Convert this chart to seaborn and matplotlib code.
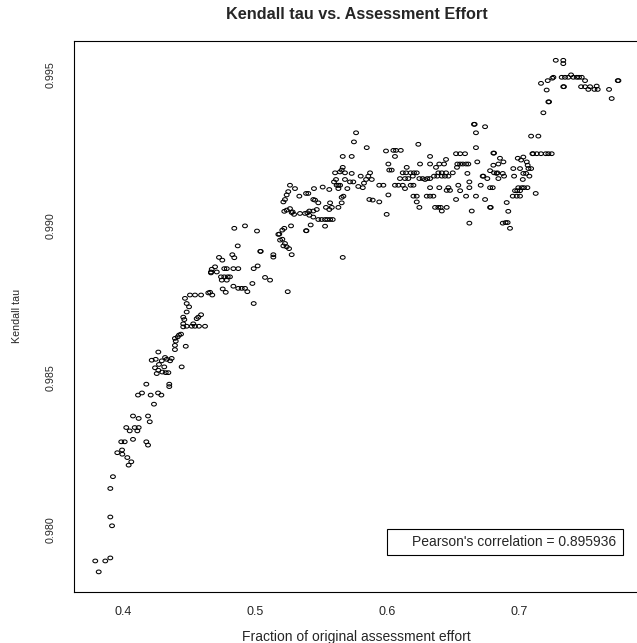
import numpy as np
import pandas as pd
import matplotlib
matplotlib.use("Agg")
import matplotlib.pyplot as plt
from matplotlib import font_manager
from matplotlib.path import Path
from matplotlib.transforms import Affine2D
from matplotlib.patches import Rectangle
import seaborn as sns

# ---------------- data ----------------
x_tail = [0.3815, 0.3789, 0.3865, 0.3903, 0.3916, 0.3903, 0.3903, 0.3923, 0.4042, 0.4062,
          0.4032, 0.3994, 0.3956, 0.3992, 0.3986, 0.4012, 0.4075, 0.4176, 0.4189, 0.4024,
          0.4050, 0.4088, 0.4108, 0.4118, 0.4075, 0.4118, 0.4189, 0.4202, 0.4113, 0.4143,
          0.4209, 0.4265, 0.4290, 0.4234, 0.4176]
y_tail = [0.97859, 0.97895, 0.97895, 0.97905, 0.98011, 0.98040, 0.98134, 0.98173, 0.98211, 0.98222,
          0.98236, 0.98247, 0.98252, 0.98261, 0.98288, 0.98288, 0.98296, 0.98288, 0.98277, 0.98335,
          0.98324, 0.98335, 0.98324, 0.98335, 0.98373, 0.98365, 0.98373, 0.98354, 0.98442, 0.98449,
          0.98442, 0.98449, 0.98442, 0.98412, 0.98478]

x_rise = [0.4350, 0.4350, 0.4255, 0.4267, 0.4297, 0.4323, 0.4343, 0.4312, 0.4444, 0.4242,
          0.4272, 0.4217, 0.4247, 0.4293, 0.4331, 0.4356, 0.4368, 0.4318, 0.4267, 0.4393,
          0.4393, 0.4475, 0.4399, 0.4414, 0.4424, 0.4439, 0.4393, 0.4456, 0.4482, 0.4520,
          0.4545, 0.4575, 0.4621, 0.4456, 0.4532, 0.4464, 0.4456, 0.4558, 0.4591, 0.4570,
          0.4482, 0.4500, 0.4482, 0.4469, 0.4507, 0.4545, 0.4591, 0.4646, 0.4676, 0.4666]
y_rise = [0.98478, 0.98470, 0.98513, 0.98524, 0.98518, 0.98516, 0.98516, 0.98535, 0.98535, 0.98532,
          0.98543, 0.98557, 0.98560, 0.98555, 0.98560, 0.98555, 0.98563, 0.98566, 0.98584, 0.98592,
          0.98606, 0.98603, 0.98620, 0.98634, 0.98640, 0.98643, 0.98629, 0.98667, 0.98669, 0.98669,
          0.98669, 0.98669, 0.98669, 0.98677, 0.98677, 0.98691, 0.98699, 0.98694, 0.98707, 0.98699,
          0.98716, 0.98733, 0.98744, 0.98761, 0.98772, 0.98772, 0.98772, 0.98779, 0.98772, 0.98845]

x_knee = [0.4659, 0.4755, 0.4778, 0.4836, 0.4873, 0.4899, 0.4924, 0.4942, 0.4990, 0.4980,
          0.5076, 0.5114, 0.5248, 0.4672, 0.4697, 0.4666, 0.4710, 0.4767, 0.4786, 0.4836,
          0.4873, 0.4742, 0.4767, 0.4793, 0.4810, 0.4748, 0.4786, 0.4727, 0.4752, 0.4828,
          0.4843, 0.4869, 0.4990, 0.5020, 0.5040, 0.5043, 0.5139, 0.5139, 0.4843, 0.4924,
          0.5015, 0.5177, 0.5207, 0.5222, 0.5190, 0.5207, 0.5215, 0.5240, 0.5258, 0.5278,
          0.5273, 0.5240, 0.5265, 0.5278, 0.5222]
y_knee = [0.98781, 0.98792, 0.98781, 0.98801, 0.98794, 0.98794, 0.98794, 0.98783, 0.98744, 0.98810,
          0.98830, 0.98821, 0.98783, 0.98857, 0.98865, 0.98848, 0.98848, 0.98859, 0.98859, 0.98859,
          0.98859, 0.98832, 0.98832, 0.98832, 0.98832, 0.98821, 0.98821, 0.98896, 0.98887, 0.98905,
          0.98895, 0.98934, 0.98859, 0.98868, 0.98916, 0.98916, 0.98905, 0.98897, 0.98992, 0.99000,
          0.98983, 0.98972, 0.98986, 0.98992, 0.98953, 0.98956, 0.98934, 0.98931, 0.98925, 0.98905,
          0.99000, 0.99052, 0.99057, 0.99044, 0.99048]

x_mid = [0.5766, 0.5750, 0.5847, 0.5993, 0.5665, 0.5733, 0.6011, 0.5665, 0.5657, 0.5644,
         0.5607, 0.5682, 0.5733, 0.5801, 0.5872, 0.5859, 0.5842, 0.5826, 0.5817, 0.5885,
         0.5942, 0.5973, 0.6018, 0.6011, 0.5998, 0.5867, 0.5892, 0.5942, 0.5720, 0.5745,
         0.5682, 0.5614, 0.5599, 0.5619, 0.5632, 0.5645, 0.5632, 0.5700, 0.5783, 0.5657,
         0.5670, 0.5563, 0.5513, 0.5447, 0.5336, 0.5387, 0.5404, 0.5303, 0.5265, 0.5252,
         0.5240, 0.5227, 0.5215, 0.5285, 0.5296, 0.5341, 0.5379, 0.5397, 0.5412, 0.5442,
         0.5468, 0.5412, 0.5442, 0.5455, 0.5480, 0.5442, 0.5538, 0.5569, 0.5563, 0.5582,
         0.5632, 0.5657, 0.5480, 0.5505, 0.5531, 0.5548, 0.5569, 0.5589, 0.5531, 0.5422,
         0.5387, 0.5390, 0.5184, 0.5227, 0.5665]
y_mid = [0.99307, 0.99277, 0.99258, 0.99247, 0.99229, 0.99229, 0.99204, 0.99193, 0.99184, 0.99178,
         0.99175, 0.99175, 0.99173, 0.99164, 0.99175, 0.99164, 0.99153, 0.99141, 0.99126, 0.99153,
         0.99134, 0.99134, 0.99184, 0.99102, 0.99038, 0.99087, 0.99085, 0.99079, 0.99145, 0.99145,
         0.99153, 0.99153, 0.99145, 0.99134, 0.99134, 0.99134, 0.99123, 0.99123, 0.99130, 0.99094,
         0.99098, 0.99120, 0.99128, 0.99123, 0.99098, 0.99107, 0.99107, 0.99123, 0.99134, 0.99113,
         0.99102, 0.99087, 0.99079, 0.99046, 0.99038, 0.99041, 0.99041, 0.99043, 0.99049, 0.99049,
         0.99054, 0.99035, 0.99029, 0.99085, 0.99076, 0.99087, 0.99061, 0.99076, 0.99054, 0.99061,
         0.99061, 0.99076, 0.99021, 0.99021, 0.99021, 0.99021, 0.99021, 0.99021, 0.98999, 0.99003,
         0.98984, 0.98984, 0.98973, 0.98942, 0.98896]

x_plateau = [0.6660, 0.6665, 0.6744, 0.6675, 0.6238, 0.6675, 0.6049, 0.6069, 0.6105, 0.6061,
             0.6327, 0.6524, 0.6555, 0.6592, 0.6807, 0.6812, 0.6845, 0.6036, 0.6251, 0.6327,
             0.6397, 0.6433, 0.6448, 0.6534, 0.6555, 0.6575, 0.6600, 0.6617, 0.6685, 0.6531,
             0.6610, 0.6150, 0.6120, 0.6145, 0.6180, 0.6205, 0.6226, 0.6390, 0.6416, 0.6448,
             0.6372, 0.6099, 0.6137, 0.6162, 0.6196, 0.6246, 0.6271, 0.6289, 0.6306, 0.6327,
             0.6357, 0.6382, 0.6416, 0.6440, 0.6466, 0.6499, 0.6625, 0.6782, 0.6812, 0.6837,
             0.6726, 0.6731, 0.6761, 0.6845, 0.6061, 0.6087, 0.6120, 0.6180, 0.6201, 0.6137,
             0.6327, 0.6397, 0.6453, 0.6466, 0.6478, 0.6541, 0.6555, 0.6625, 0.6711, 0.6782,
             0.6802, 0.6201, 0.6226, 0.6302, 0.6327, 0.6352, 0.6226, 0.6246, 0.6365, 0.6390,
             0.6408, 0.6416, 0.6453, 0.6524, 0.6600, 0.6675, 0.6744, 0.6643, 0.6782, 0.6787,
             0.6625, 0.6878]
y_plateau = [0.99335, 0.99335, 0.99327, 0.99307, 0.99269, 0.99258, 0.99249, 0.99249, 0.99249, 0.99229,
             0.99229, 0.99238, 0.99238, 0.99238, 0.99240, 0.99240, 0.99204, 0.99184, 0.99204, 0.99204,
             0.99204, 0.99204, 0.99219, 0.99204, 0.99204, 0.99204, 0.99204, 0.99204, 0.99211, 0.99193,
             0.99173, 0.99193, 0.99175, 0.99175, 0.99175, 0.99175, 0.99175, 0.99175, 0.99175, 0.99175,
             0.99193, 0.99156, 0.99156, 0.99156, 0.99164, 0.99156, 0.99156, 0.99153, 0.99156, 0.99156,
             0.99164, 0.99164, 0.99164, 0.99164, 0.99164, 0.99175, 0.99145, 0.99182, 0.99175, 0.99175,
             0.99164, 0.99164, 0.99156, 0.99156, 0.99134, 0.99134, 0.99134, 0.99134, 0.99134, 0.99123,
             0.99126, 0.99126, 0.99117, 0.99126, 0.99117, 0.99134, 0.99116, 0.99126, 0.99134, 0.99126,
             0.99126, 0.99098, 0.99098, 0.99098, 0.99098, 0.99098, 0.99079, 0.99061, 0.99061, 0.99061,
             0.99061, 0.99049, 0.99061, 0.99087, 0.99098, 0.99098, 0.99087, 0.99049, 0.99061, 0.99061,
             0.99009, 0.99009]

x_top = [0.7280, 0.7337, 0.7337, 0.7168, 0.7211, 0.7219, 0.7254, 0.7262, 0.7325, 0.7350,
         0.7375, 0.7396, 0.7413, 0.7439, 0.7456, 0.7477, 0.7502, 0.7337, 0.7342, 0.7472,
         0.7502, 0.7540, 0.7527, 0.7573, 0.7598, 0.7590, 0.7684, 0.7704, 0.7750, 0.7755,
         0.7224, 0.7229, 0.7186, 0.7093, 0.7148, 0.7103, 0.7108, 0.7136, 0.7168, 0.7204,
         0.7224, 0.7249, 0.6857, 0.6992, 0.7017, 0.7034, 0.7060, 0.7067, 0.6958, 0.7009,
         0.7073, 0.7093]
y_top = [0.99546, 0.99546, 0.99535, 0.99470, 0.99448, 0.99479, 0.99487, 0.99490, 0.99490, 0.99490,
         0.99490, 0.99498, 0.99490, 0.99490, 0.99490, 0.99490, 0.99479, 0.99459, 0.99459, 0.99459,
         0.99459, 0.99459, 0.99450, 0.99450, 0.99450, 0.99461, 0.99450, 0.99420, 0.99479, 0.99479,
         0.99409, 0.99409, 0.99373, 0.99296, 0.99296, 0.99238, 0.99238, 0.99238, 0.99238, 0.99238,
         0.99238, 0.99238, 0.99223, 0.99223, 0.99217, 0.99227, 0.99211, 0.99200, 0.99189, 0.99189,
         0.99189, 0.99189]

x_right = [0.6883, 0.6807, 0.6832, 0.6878, 0.6888, 0.6964, 0.7034, 0.7055, 0.7080, 0.7030,
           0.6996, 0.7022, 0.7039, 0.7065, 0.6971, 0.6988, 0.7009, 0.6954, 0.6984, 0.7009,
           0.7128, 0.6908, 0.6920, 0.6900, 0.6915, 0.6933]
y_right = [0.99211, 0.99200, 0.99173, 0.99173, 0.99164, 0.99164, 0.99173, 0.99173, 0.99164, 0.99153,
           0.99126, 0.99126, 0.99126, 0.99126, 0.99116, 0.99116, 0.99116, 0.99098, 0.99098, 0.99098,
           0.99107, 0.99077, 0.99048, 0.99011, 0.99011, 0.98992]

x_ticks = [0.4, 0.5, 0.6, 0.7]
x_tick_labels = ["0.4", "0.5", "0.6", "0.7"]
y_ticks = [0.980, 0.985, 0.990, 0.995]
y_tick_labels = ["0.980", "0.985", "0.990", "0.995"]
title = "Kendall tau vs. Assessment Effort"
x_label = "Fraction of original assessment effort"
y_label = "Kendall tau"
legend_text = "Pearson's correlation = 0.895936"

df = pd.DataFrame({
    "effort": x_tail + x_rise + x_knee + x_mid + x_plateau + x_top + x_right,
    "tau": y_tail + y_rise + y_knee + y_mid + y_plateau + y_top + y_right,
})

# ---------------- styling ----------------
sns.set_style("white")
plt.rcParams["font.family"] = ["Liberation Sans", "DejaVu Sans"]

names = {f.name for f in font_manager.fontManager.ttflist}
if "Liberation Sans Narrow" in names:
    yfont = dict(family=["Liberation Sans Narrow", "DejaVu Sans"], size=9.3)
else:
    yfont = dict(family=["Liberation Sans", "DejaVu Sans"], size=7.7)

W, H = 637, 643
fig = plt.figure(figsize=(W / 100, H / 100), dpi=100)
fig.patch.set_facecolor("white")
left_px, right_px, top_px, bot_px = 74.3, 639.0, 40.6, 592.2
ax = fig.add_axes([left_px / W, 1 - bot_px / H, (right_px - left_px) / W, (bot_px - top_px) / H])

# slightly flattened open circle (the reference is squeezed vertically)
ell = Path.unit_circle().transformed(Affine2D().scale(1.0, 0.77))

sns.scatterplot(data=df, x="effort", y="tau", ax=ax, marker=ell, s=12,
                facecolor="none", edgecolor="black", linewidth=0.75, legend=False)

ax.set_xlim(0.3630, 0.7911)
ax.set_ylim(0.97792, 0.99611)

for sp in ax.spines.values():
    sp.set_visible(True)
    sp.set_color("black")
    sp.set_linewidth(0.8)

ax.set_xticks(x_ticks)
ax.set_xticklabels(x_tick_labels, fontsize=9)
ax.set_yticks(y_ticks)
ax.set_yticklabels(y_tick_labels, rotation=90, va="center", **yfont)
ax.tick_params(axis="both", direction="out", length=5.2, width=0.7, color="#333333")
ax.tick_params(axis="x", pad=4.5)
ax.tick_params(axis="y", pad=8)

ax.set_xlabel(x_label, fontsize=10)
ax.xaxis.set_label_coords(0.5, (bot_px - 637.0) / (bot_px - top_px))
ax.xaxis.label.set_va("center")
ax.set_ylabel(y_label, **yfont)
ax.yaxis.set_label_coords((16.7 - left_px) / (right_px - left_px), 0.5)
ax.yaxis.label.set_va("center")

fig.text((left_px + right_px) / 2 / W, 1 - 14.8 / H, title, ha="center", va="center",
         fontsize=11.7, fontweight="bold")

# legend box (R legend with text only)
ax.add_patch(Rectangle((0.6, 0.97916), 0.1786, 0.00084, fill=False, edgecolor="black",
                       linewidth=0.8, zorder=5))
ax.text(0.6192, 0.97958, legend_text, ha="left", va="center", fontsize=10, zorder=6)

fig.savefig("out.png", dpi=100, facecolor="white")
